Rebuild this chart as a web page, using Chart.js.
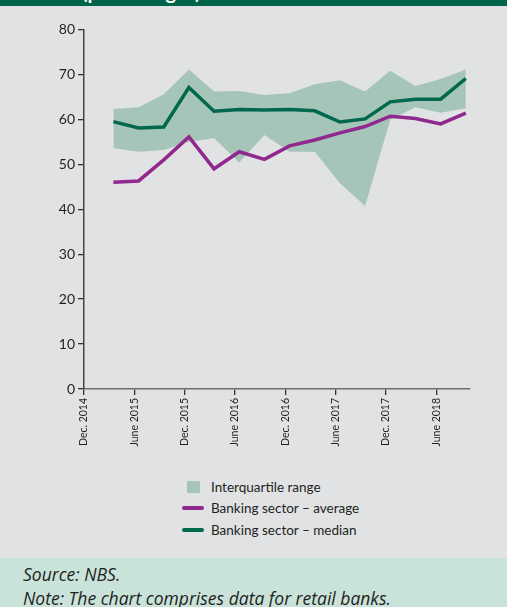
<!DOCTYPE html>
<html>
<head>
<meta charset="utf-8">
<script src="https://cdn.jsdelivr.net/npm/chart.js@4.4.1/dist/chart.umd.min.js"></script>
<style>
  body { margin: 0; width: 507px; height: 607px; overflow: hidden; background: #e1e2e4; font-family: Lato, "Noto Sans", sans-serif; }
  #banner { position: absolute; left: 0; top: 0; width: 507px; height: 6px; background: #00644b; overflow: hidden; }
  #banner span { position: absolute; left: 82px; top: -21px; line-height: 24px; color: #fff; font-weight: bold; font-size: 20px; }
  #wrap { position: absolute; left: 0; top: 6px; width: 507px; height: 443px; }
  #legend { position: absolute; left: 182px; top: 476px; font-size: 13.5px; color: #231f20; }
  .item { height: 21.5px; display: flex; align-items: center; }
  .sw { width: 22px; margin-right: 7px; display: flex; justify-content: center; }
  #footer { position: absolute; left: 0; top: 558px; width: 507px; height: 49px; background: #c9e3da; }
  #footer div { position: absolute; left: 23px; font-family: "Open Sans", sans-serif; font-style: italic; font-size: 17.5px; color: #231f20; white-space: nowrap; }
</style>
</head>
<body>
<div id="banner"><span>(percentages)</span></div>
<div id="wrap"><canvas id="chart"></canvas></div>
<div id="legend"></div>
<div id="footer">
  <div style="top: 4px;">Source: NBS.</div>
  <div style="top: 28px;">Note: The chart comprises data for retail banks.</div>
</div>
<script>
// quarterly observations, Mar 2015 - Sep 2018 (months after Dec 2014)
var months = [3, 6, 9, 12, 15, 18, 21, 24, 27, 30, 33, 36, 39, 42, 45];
var tickLabels = ["Dec. 2014", "June 2015", "Dec. 2015", "June 2016", "Dec. 2016", "June 2017", "Dec. 2017", "June 2018"];

var median = [59.5, 58.1, 58.3, 67.1, 61.8, 62.2, 62.1, 62.2, 61.9, 59.4, 60.1, 63.9, 64.5, 64.5, 69.1];
var average = [46.0, 46.3, 51.0, 56.1, 49.0, 52.8, 51.1, 54.1, 55.4, 57.0, 58.4, 60.7, 60.2, 59.0, 61.4];
var q1 = [53.6, 52.8, 53.2, 55.0, 55.8, 50.4, 56.5, 52.8, 52.8, 45.8, 40.7, 59.9, 62.7, 61.5, 62.5];
var q3 = [62.3, 62.7, 65.6, 71.1, 66.2, 66.3, 65.4, 65.8, 67.8, 68.7, 66.2, 70.8, 67.4, 69.0, 71.1];

var green = "#00684c";
var purple = "#91288d";
var band = "#a6c5b9";

function pts(values) {
  return values.map(function(v, i) { return { x: months[i] + 0.5, y: v }; });
}

var ctx = document.getElementById("chart").getContext("2d");
var chart = new Chart(ctx, {
  type: "line",
  data: {
    datasets: [
      { label: "Banking sector – median", data: pts(median), borderColor: green, borderWidth: 3.5, pointRadius: 0, fill: false },
      { label: "Banking sector – average", data: pts(average), borderColor: purple, borderWidth: 3.5, pointRadius: 0, fill: false },
      { label: "q1", data: pts(q1), borderWidth: 0, borderColor: "transparent", pointRadius: 0, fill: false },
      { label: "Interquartile range", data: pts(q3), borderWidth: 0, borderColor: "transparent", backgroundColor: band, pointRadius: 0, fill: "-1" }
    ]
  },
  options: {
    responsive: true,
    maintainAspectRatio: false,
    animation: false,
    layout: { padding: { top: 23.5, right: 37, left: 0, bottom: 0 } },
    plugins: { legend: { display: false }, tooltip: { enabled: false } },
    scales: {
      x: {
        type: "linear",
        min: 0,
        max: 46,
        afterFit: function(s) { s.height = 60; },
        afterBuildTicks: function(s) {
          s.ticks = tickLabels.map(function(t, i) { return { value: i * 6 }; });
        },
        ticks: {
          autoSkip: false,
          maxRotation: 90,
          minRotation: 90,
          padding: 3,
          color: "#231f20",
          font: { family: "Lato", size: 10.5 },
          callback: function(v) { return tickLabels[v / 6]; }
        },
        grid: { drawOnChartArea: false, drawTicks: true, tickLength: 6, color: "#333", lineWidth: 1.3 },
        border: { display: true, color: "#6d6d6d", width: 1.5 }
      },
      y: {
        min: 0,
        max: 80,
        afterFit: function(s) { s.width = 84; },
        ticks: {
          stepSize: 10,
          padding: 3,
          color: "#231f20",
          font: { family: "Lato", size: 14 }
        },
        grid: { drawOnChartArea: false, drawTicks: true, tickLength: 6, color: "#333", lineWidth: 1.3 },
        border: { display: true, color: "#444", width: 1.5 }
      }
    }
  }
});

// legend built from the chart's datasets
var legendOrder = [3, 1, 0];
var legendEl = document.getElementById("legend");
legendOrder.forEach(function(i) {
  var ds = chart.data.datasets[i];
  var row = document.createElement("div");
  row.className = "item";
  var sw = document.createElement("div");
  sw.className = "sw";
  var mark = document.createElement("div");
  if (ds.fill) {
    mark.style.cssText = "width:13px;height:12px;background:" + ds.backgroundColor;
  } else {
    mark.style.cssText = "width:22px;height:4px;border-radius:2px;background:" + ds.borderColor;
  }
  sw.appendChild(mark);
  row.appendChild(sw);
  var txt = document.createElement("span");
  txt.textContent = ds.label;
  row.appendChild(txt);
  legendEl.appendChild(row);
});
</script>
</body>
</html>
